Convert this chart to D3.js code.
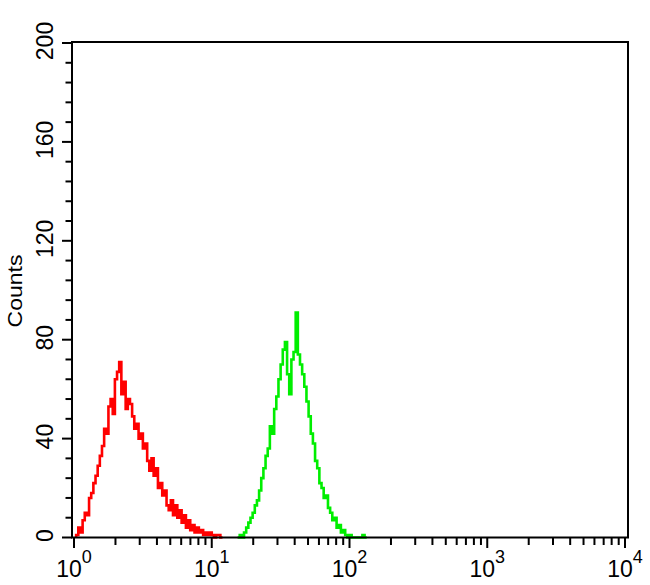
<!DOCTYPE html>
<html><head><meta charset="utf-8">
<script src="https://cdn.jsdelivr.net/npm/d3@7"></script>
<style>body{margin:0;background:#fff}svg{display:block}text{font-family:"Liberation Sans",Arial,sans-serif;fill:#000}</style>
</head><body><svg id="c" width="650" height="585"></svg>
<script>
// Histogram data: 256 channels spanning 4 decades (10^0 .. 10^4)
const channelsTotal = 256;
const decades = 4;
const redStartChannel = 1;
const redCounts = [1,4,2,7,10,9,16,18,22,25,29,33,37,44,42,53,56,50,64,67,71,58,63,52,56,54,49,44,46,40,42,36,38,31,27,32,25,28,20,22,17,19,13,11,15,9,13,8,11,6,9,4,7,3,5,2,4,2,3,1,2,1,2,1,0,1,1,0];
const greenStartChannel = 76;
const greenCounts = [0,1,0,2,4,6,8,10,13,15,19,24,28,33,36,45,42,52,57,64,70,76,79,66,58,72,75,91,74,70,66,61,55,49,42,38,31,28,22,20,16,17,12,10,7,8,4,5,2,3,1,0,1,0,0,0,0,0,1,0];
const yTicks = [0,40,80,120,160,200];
const yMinorStep = 8;
const xDecades = [0,1,2,3,4];
const yLabel = "Counts";

const svg = d3.select("#c");
const x = d3.scaleLog().domain([1,10000]).range([74,625]);
const y = d3.scaleLinear().domain([0,200]).range([537.5,43]);

function edge(ch){ return Math.pow(10, ch*decades/channelsTotal); }
function pts(start, counts){
  const p=[[edge(start),0]];
  counts.forEach((c,i)=>p.push([edge(start+i),c]));
  p.push([edge(start+counts.length),0]);
  return p;
}
const line = d3.line().x(d=>x(d[0])).y(d=>y(d[1])).curve(d3.curveStepAfter);

svg.append("path").attr("d",line(pts(redStartChannel,redCounts)))
  .attr("fill","none").attr("stroke","#ff0000").attr("stroke-width",2.6);
svg.append("path").attr("d",line(pts(greenStartChannel,greenCounts)))
  .attr("fill","none").attr("stroke","#00ee00").attr("stroke-width",2.6);

// frame
svg.append("rect").attr("x",72).attr("y",42).attr("width",556).attr("height",495.5)
  .attr("fill","none").attr("stroke","#000").attr("stroke-width",2);

// y ticks
const yMinor = d3.range(0,201,yMinorStep);
svg.append("g").selectAll("line").data(yMinor).join("line")
  .attr("x1",d=>yTicks.includes(d)?62:65.5).attr("x2",72)
  .attr("y1",d=>y(d)).attr("y2",d=>y(d))
  .attr("stroke","#000").attr("stroke-width",2);
svg.append("g").selectAll("text").data(yTicks).join("text")
  .attr("transform",d=>`translate(53,${y(d)-2}) rotate(-90)`)
  .attr("text-anchor","middle").attr("font-size",23).text(d=>d);

// x ticks
const xMinor = [];
xDecades.forEach(e=>{ if(e<4) for(let k=2;k<=9;k++) xMinor.push(k*Math.pow(10,e)); });
svg.append("g").selectAll("line").data(xMinor).join("line")
  .attr("x1",d=>x(d)).attr("x2",d=>x(d)).attr("y1",537).attr("y2",545)
  .attr("stroke","#000").attr("stroke-width",2);
svg.append("g").selectAll("line").data(xDecades).join("line")
  .attr("x1",d=>x(Math.pow(10,d))).attr("x2",d=>x(Math.pow(10,d))).attr("y1",537).attr("y2",548)
  .attr("stroke","#000").attr("stroke-width",2);
const xl = svg.append("g").selectAll("text").data(xDecades).join("text")
  .attr("x",d=>x(Math.pow(10,d))).attr("y",577).attr("text-anchor","middle");
xl.append("tspan").attr("font-size",23).text("10");
xl.append("tspan").attr("font-size",18).attr("dy",-14).text(d=>d);

// y label
svg.append("text").attr("transform","translate(22,291) rotate(-90) scale(1.15,1)")
  .attr("text-anchor","middle").attr("font-size",20).text(yLabel);
</script></body></html>
